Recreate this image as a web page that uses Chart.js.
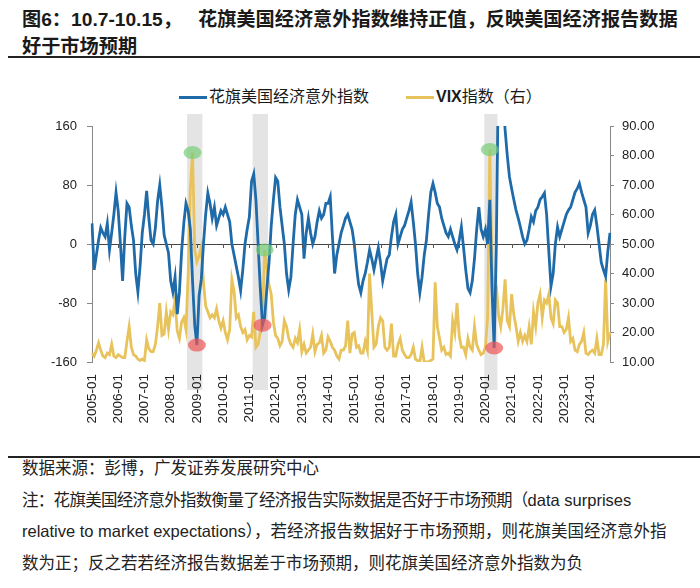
<!doctype html>
<html lang="zh">
  <head>
    <meta charset="UTF-8" />
    <title>花旗美国经济意外指数与VIX</title>
    <script src="https://cdn.jsdelivr.net/npm/chart.js"></script>
    <style>
      body { margin: 0; width: 700px; height: 588px; position: relative; background: #fff; overflow: hidden;
        font-family: 'Liberation Sans', 'Noto Sans CJK SC', sans-serif; color: #1a1a1a; }
      #title { position: absolute; left: 22px; top: 6px; font-size: 19.2px; font-weight: bold; line-height: 27px; white-space: nowrap; }
      .rule { position: absolute; left: 8px; right: 0; height: 2px; background: #222; }
      #legend { position: absolute; top: 86px; left: 0; width: 700px; font-size: 16px; white-space: nowrap; }
      #legend span.item { position: absolute; top: 0; line-height: 22px; }
      #legend i { display: inline-block; width: 28px; height: 3px; vertical-align: middle; margin-right: 2px; }
      #wrap { position: absolute; left: 0; top: 60px; }
      #note { position: absolute; left: 22px; top: 453px; font-size: 16.5px; line-height: 31.5px; color: #222; white-space: nowrap; }
      .tight { letter-spacing: -0.7px; }
    </style>
  </head>
  <body>
    <div id="title">图6：10.7-10.15，&nbsp;&nbsp;&nbsp;花旗美国经济意外指数维持正值，反映美国经济报告数据<br />好于市场预期</div>
    <div class="rule" style="top: 56px"></div>
    <div id="legend">
      <span class="item" style="left: 179px"><i style="background: #1f6aa8"></i>花旗美国经济意外指数</span>
      <span class="item" style="left: 406px"><i style="background: #e8c35c"></i><b>VIX</b>指数（右）</span>
    </div>
    <div id="wrap"><canvas id="myChart" width="700" height="390"></canvas></div>
    <div class="rule" style="top: 456px"></div>
    <div id="note">
      数据来源：彭博，广发证券发展研究中心<br />
      <span class="tight">注：花旗美国经济意外指数衡量了经济报告实际数据是否好于市场预期（</span>data surprises<br />
      relative to market expectations），若经济报告数据好于市场预期，则花旗美国经济意外指<br />
      数为正；反之若若经济报告数据差于市场预期，则花旗美国经济意外指数为负
    </div>
    <script>
      // monthly labels 2005-01 .. 2024-10
      const labels = []
      for (let y = 2005; y <= 2024; y++) {
        for (let m = 1; m <= 12; m++) {
          if (y === 2024 && m > 10) break
          labels.push(y + '-' + String(m).padStart(2, '0'))
        }
      }

      // Citi US economic surprise index (left axis), one value per month
      const cesi = [
        28, -35, -15, 5, 22, 15, 10, 28, -8, 15, 40, 70, // 2005
        45, 0, -50, 10, 55, 50, 25, 5, -40, -65, -30, 15, // 2006
        40, 72, 35, 5, 0, 22, 58, 80, 50, 12, 0, -12, // 2007
        -50, -65, -45, -95, -65, -10, 28, 55, 45, 20, -50, -110, // 2008
        -137, -70, -48, 0, 40, 69, 55, 35, 50, 25, 35, 45, // 2009
        40, 50, 40, 30, 0, -15, -30, -45, -63, -35, 0, 20, // 2010
        37, 85, 95, 60, 0, -60, -110, -100, -60, -25, 25, 60, // 2011
        90, 85, 50, 25, 0, -40, -62, -45, 0, 40, 60, 50, // 2012
        40, -20, 15, 35, 15, 0, 10, 30, 45, 35, 40, 55, // 2013
        55, 64, 10, -40, -15, 0, 15, 25, 35, 40, 30, 20, // 2014
        0, -30, -55, -66, -50, -40, -25, -8, -20, -35, -20, -5, // 2015
        -25, -50, -35, -20, -15, 10, 30, 40, 0, 10, 20, 25, // 2016
        35, 45, 57, 30, 0, -40, -66, -45, -15, 5, 40, 70, // 2017
        82, 70, 55, 50, 35, 25, 15, 10, 20, 10, 0, -8, // 2018
        5, 23, -5, -35, -60, -66, -50, -20, 20, 50, 20, 10, // 2019
        20, 0, 60, -60, -141, 0, 250, 240, 200, 155, 120, 91, // 2020
        75, 60, 46, 35, 23, 10, 0, 5, 20, 37, 30, 45, // 2021
        50, 60, 64, 69, 40, -10, -57, -40, 0, 23, 10, 20, // 2022
        30, 40, 46, 50, 60, 70, 75, 82, 70, 60, 50, 15, // 2023
        25, 40, 46, 25, 0, -25, -35, -44, -10, 15 // 2024
      ]

      // VIX (right axis)
      const vix = [
        13, 12, 14, 16.5, 14, 12, 11.5, 13, 12.5, 16, 12, 11.5, // 2005
        12.5, 12, 11.5, 11.5, 17, 22, 15, 12.5, 12, 11, 10.5, 11, // 2006
        10.5, 17.5, 14.5, 13.5, 13.5, 16, 22, 30, 19, 19.5, 27, 21, // 2007
        27, 26, 31, 20.5, 18, 23.5, 25, 21, 40, 69, 81, 48, // 2008
        44, 46, 49, 37, 29, 27, 25, 26, 25, 28, 24, 21.5, // 2009
        24, 20, 17.5, 21, 38, 34, 25, 26, 22, 20, 21, 17.5, // 2010
        19, 18.5, 27, 15, 16, 20, 25, 48, 42, 36, 33, 23.5, // 2011
        19, 18, 15.5, 17, 24, 22, 18, 16, 15, 18, 16.5, 21, // 2012
        13.5, 16, 13, 14, 15, 19.5, 13.5, 16, 16.5, 19, 13, 14, // 2013
        18.5, 17, 15, 14, 12, 11, 14, 14, 15.5, 24, 13, 19.5, // 2014
        20, 15, 15.5, 13, 13, 17, 14, 40, 27, 15, 16, 22, // 2015
        25, 24, 15, 14, 15, 23, 12, 12, 16, 18, 14, 12.5, // 2016
        11.5, 11.5, 12.5, 15, 11, 10.5, 10, 15, 10, 10, 10, 10.5, // 2017
        11, 37, 22, 18, 14, 15, 12.5, 13, 12, 24, 20, 30, // 2018
        19, 15, 15, 12.5, 18, 15, 14, 22, 16, 14, 12.5, 13, // 2019
        15, 25, 82, 42, 30, 36, 26, 22, 28, 38, 24, 22, // 2020
        33, 26, 22, 17, 20, 17, 19, 17, 22, 16, 27, 22, // 2021
        30, 33, 25, 31, 30, 33, 25, 23, 31, 30, 22, 22, // 2022
        20, 21, 25, 17, 18, 14, 13.5, 16, 17, 20, 13, 12.5, // 2023
        13.5, 14, 13, 18, 12.5, 12.5, 16, 38, 17, 20 // 2024
      ]

      // shaded stress periods
      const bandStart = ['2008-09', '2011-03', '2020-01']
      const bandEnd = ['2009-03', '2011-09', '2020-06']

      const blue = '#1f6aa8'
      const gold = '#e8c35c'

      const bandsPlugin = {
        id: 'bands',
        beforeDraw(chart) {
          const { ctx, chartArea, scales } = chart
          const x = scales.x
          const half = (x.getPixelForValue(1) - x.getPixelForValue(0)) / 2
          ctx.save()
          ctx.fillStyle = '#e4e4e4'
          bandStart.forEach((s, k) => {
            const x0 = x.getPixelForValue(labels.indexOf(s)) - half
            const x1 = x.getPixelForValue(labels.indexOf(bandEnd[k])) + half
            ctx.fillRect(x0, chartArea.top - 12, x1 - x0, chartArea.bottom - chartArea.top + 40)
          })
          ctx.restore()
        }
      }

      const markersPlugin = {
        id: 'markers',
        afterDatasetsDraw(chart) {
          const { ctx, scales } = chart
          const x = scales.x
          // small ticks on the zero line at each January
          ctx.save()
          ctx.strokeStyle = '#555'
          ctx.lineWidth = 1
          const y0 = scales.y.getPixelForValue(0)
          labels.forEach((l, i) => {
            if (l.endsWith('-01') && i > 0) {
              const px = Math.round(x.getPixelForValue(i)) + 0.5
              ctx.beginPath()
              ctx.moveTo(px, y0)
              ctx.lineTo(px, y0 + 4)
              ctx.stroke()
            }
          })
          // circles: VIX peak (green) and surprise-index trough (red) in each band
          bandStart.forEach((s, k) => {
            const a = labels.indexOf(s)
            const b = labels.indexOf(bandEnd[k])
            let iMax = a
            let iMin = a
            for (let i = a; i <= b; i++) {
              if (vix[i] > vix[iMax]) iMax = i
              if (cesi[i] < cesi[iMin]) iMin = i
            }
            ctx.fillStyle = 'rgba(120, 205, 120, 0.7)'
            ctx.beginPath()
            ctx.ellipse(x.getPixelForValue(iMax), scales.y1.getPixelForValue(vix[iMax]), 9, 6.5, 0, 0, Math.PI * 2)
            ctx.fill()
            ctx.fillStyle = 'rgba(240, 85, 85, 0.7)'
            ctx.beginPath()
            ctx.ellipse(x.getPixelForValue(iMin), scales.y.getPixelForValue(cesi[iMin]), 9, 6.5, 0, 0, Math.PI * 2)
            ctx.fill()
          })
          ctx.restore()
        }
      }

      Chart.defaults.font.family = "'Liberation Sans', 'Noto Sans CJK SC', sans-serif"
      Chart.defaults.font.size = 13
      Chart.defaults.color = '#222'

      const ctx = document.getElementById('myChart').getContext('2d')
      const myChart = new Chart(ctx, {
        type: 'line',
        data: {
          labels: labels,
          datasets: [
            {
              label: '花旗美国经济意外指数',
              data: cesi,
              yAxisID: 'y',
              borderColor: blue,
              borderWidth: 2.8,
              pointRadius: 0,
              tension: 0
            },
            {
              label: 'VIX指数（右）',
              data: vix,
              yAxisID: 'y1',
              borderColor: gold,
              borderWidth: 2.8,
              pointRadius: 0,
              tension: 0
            }
          ]
        },
        options: {
          responsive: false,
          animation: false,
          devicePixelRatio: 1,
          layout: { padding: { top: 66, left: 0, right: 0, bottom: 0 } },
          plugins: {
            legend: { display: false },
            tooltip: { enabled: false }
          },
          scales: {
            x: {
              type: 'category',
              offset: false,
              border: { display: false },
              grid: { display: false, drawTicks: false },
              ticks: {
                autoSkip: false,
                minRotation: 90,
                maxRotation: 90,
                padding: 12,
                font: { size: 13.5 },
                callback: function (value, index) {
                  return labels[index].endsWith('-01') ? labels[index] : null
                }
              },
              afterFit: (scale) => { scale.height = 88 }
            },
            y: {
              position: 'left',
              min: -160,
              max: 160,
              border: { display: true, color: '#888' },
              grid: {
                drawOnChartArea: true,
                color: (c) => (c.tick && c.tick.value === 0 ? '#444' : 'rgba(0,0,0,0)'),
                tickColor: '#888',
                tickLength: 5
              },
              ticks: { stepSize: 80, padding: 10 },
              afterFit: (scale) => { scale.width = 92 }
            },
            y1: {
              position: 'right',
              min: 10,
              max: 90,
              border: { display: true, color: '#888' },
              grid: { drawOnChartArea: false, tickColor: '#888', tickLength: 4 },
              ticks: {
                stepSize: 10,
                padding: 8,
                callback: (v) => v.toFixed(2)
              },
              afterFit: (scale) => { scale.width = 90 }
            }
          }
        },
        plugins: [bandsPlugin, markersPlugin]
      })
    </script>
  </body>
</html>
